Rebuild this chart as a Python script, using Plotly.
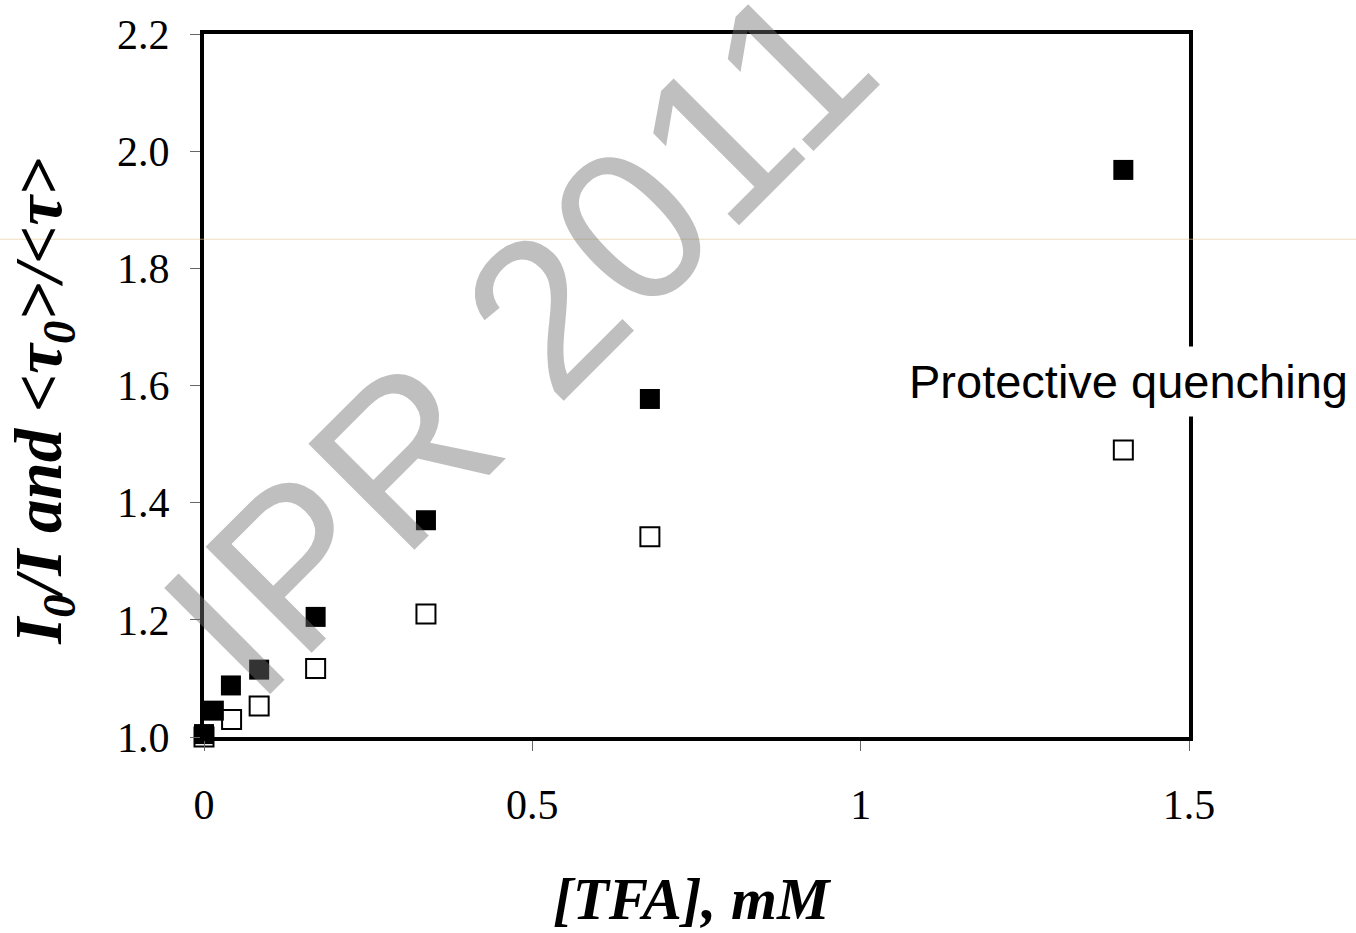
import plotly.graph_objects as go

# Data
tfa_filled = [0.0, 0.015, 0.041, 0.084, 0.17, 0.338, 0.679, 1.40]
ratio_filled = [1.005, 1.045, 1.088, 1.115, 1.205, 1.37, 1.577, 1.968]  # I0/I

tfa_open = [0.0, 0.042, 0.084, 0.17, 0.338, 0.679, 1.40]
ratio_open = [1.0, 1.03, 1.053, 1.117, 1.21, 1.342, 1.49]  # <tau0>/<tau>

y_ticks = [1.0, 1.2, 1.4, 1.6, 1.8, 2.0, 2.2]
x_ticks = [0, 0.5, 1, 1.5]

W, H = 1356, 933
L, R, T, B = 204, 167, 28, 196

fig = go.Figure()
fig.add_trace(go.Scatter(
    x=tfa_open, y=ratio_open, mode="markers", cliponaxis=False,
    marker=dict(symbol="square-open", size=19, color="black", line=dict(width=2, color="black")),
    showlegend=False))
fig.add_trace(go.Scatter(
    x=tfa_filled, y=ratio_filled, mode="markers", cliponaxis=False,
    marker=dict(symbol="square", size=20, color="black", line=dict(width=0)),
    showlegend=False))

serif = "Liberation Serif, Times New Roman, serif"
sans = "Liberation Sans, Arial, sans-serif"

def px_x(p):
    return (p - L) / (W - L - R)

def px_y(p):
    return (H - B - p) / (H - T - B)

fig.update_layout(
    width=W, height=H,
    margin=dict(l=L, r=R, t=T, b=B, pad=0),
    plot_bgcolor="white", paper_bgcolor="white",
    xaxis=dict(range=[0, 1.5], tickvals=x_ticks, ticktext=["0", "0.5", "1", "1.5"],
               showgrid=False, zeroline=False, showline=True, linecolor="black", linewidth=4,
               mirror=True, ticks="outside", ticklen=10, tickwidth=1, tickcolor="#666",
               ticklabelstandoff=18,
               tickfont=dict(family=serif, size=42, color="black")),
    yaxis=dict(range=[1.0, 2.2], tickvals=y_ticks, tickformat=".1f",
               showgrid=False, zeroline=False, showline=True, linecolor="black", linewidth=4,
               mirror=True, ticks="outside", ticklen=10, tickwidth=1, tickcolor="#666",
               ticklabelstandoff=12,
               tickfont=dict(family=serif, size=42, color="black")),
    annotations=[
        dict(text="<b><i>[TFA], mM</i></b>", x=px_x(692), y=px_y(900), xref="paper", yref="paper",
             showarrow=False, xanchor="center", yanchor="middle",
             font=dict(family=serif, size=59, color="black")),
        dict(text="<b><i>I<sub>0</sub>/I and &lt;τ<sub>0</sub>&gt;/&lt;τ&gt;</i></b>",
             x=px_x(43), y=px_y(399), xref="paper", yref="paper", textangle=-90,
             showarrow=False, xanchor="center", yanchor="middle",
             font=dict(family=serif, size=67, color="black")),
        dict(text="Protective quenching", x=px_x(1128), y=px_y(378), xref="paper", yref="paper",
             showarrow=False, xanchor="center", yanchor="middle", bgcolor="white", borderpad=8,
             font=dict(family=sans, size=47, color="black")),
        dict(text="IPR 2011", x=px_x(518), y=px_y(336), xref="paper", yref="paper",
             showarrow=False, xanchor="center", yanchor="middle", textangle=-45,
             font=dict(family=sans, size=218, color="rgba(114,114,114,0.45)")),
    ],
    shapes=[
        dict(type="line", xref="paper", yref="paper", x0=px_x(0), x1=px_x(W), y0=px_y(235), y1=px_y(235),
             line=dict(color="rgba(225,200,140,0.6)", width=1), layer="above"),
    ],
)

fig.write_html("out.html")
